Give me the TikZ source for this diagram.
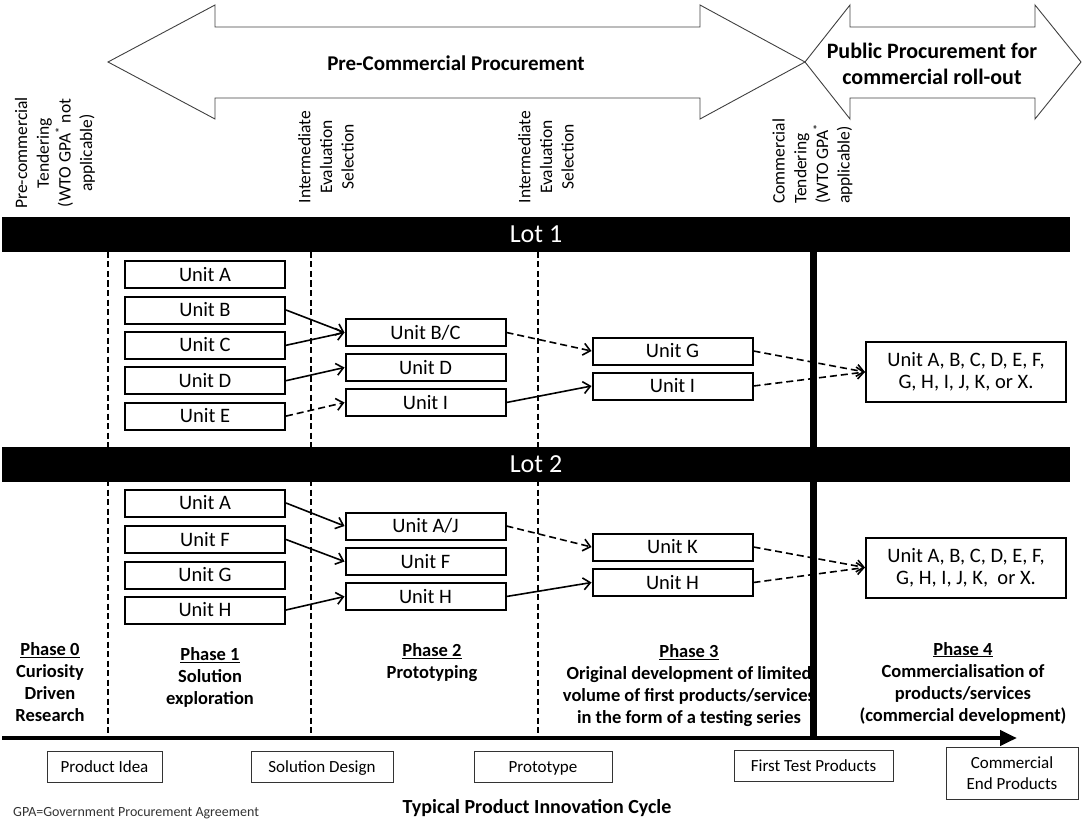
\documentclass[tikz,border=0pt]{standalone}
\usepackage{fontspec}
\setmainfont{Carlito}
\usetikzlibrary{arrows.meta}

\tikzset{
  unit/.style={draw, line width=2pt, minimum width=160pt, minimum height=27pt, inner sep=0pt, text height=13pt, text depth=0pt, font=\fontsize{20.5}{22}\selectfont},
  final/.style={draw, line width=2pt, minimum width=200pt, minimum height=60pt, inner sep=0pt, align=center, font=\fontsize{20.5}{22}\selectfont},
  stage/.style={draw=black!80, line width=0.9pt, minimum height=31pt, inner sep=0pt, text height=11pt, text depth=0pt, font=\fontsize{17}{21}\selectfont},
  lotbar/.style={fill=black, minimum width=1068pt, minimum height=35pt, inner sep=0pt, text=white, font=\fontsize{26}{30}\selectfont},
  milestone/.style={rotate=90, align=center, inner sep=0pt, font=\fontsize{17.5}{21.7}\selectfont},
  phase/.style={align=center, inner sep=0pt, font=\bfseries\fontsize{18.5}{22}\selectfont},
  link/.style={line width=1.6pt, -{Straight Barb[length=7pt,width=12pt]}},
  optional/.style={link, dash pattern=on 7pt off 4pt},
  gate/.style={line width=2pt, dash pattern=on 6pt off 3.5pt},
  outline/.style={line width=0.9pt, black!75}
}

\begin{document}
\begin{tikzpicture}[x=1pt, y=-1pt]
\useasboundingbox (0,0) rectangle (1082,821);

% procurement arrows
\draw[outline] (108,62) -- (215,5) -- (215,27) -- (700,27) -- (700,5) -- (805,62) -- (700,119) -- (700,98) -- (215,98) -- (215,119) -- cycle;
\draw[outline] (805,62) -- (850,5) -- (850,27) -- (1035,27) -- (1035,5) -- (1081,62) -- (1035,119) -- (1035,98) -- (850,98) -- (850,119) -- cycle;
\node[font=\bfseries\fontsize{21}{24}\selectfont] (pcp) at (456,63) {Pre-Commercial Procurement};
\node[align=center, font=\bfseries\fontsize{22}{25.5}\selectfont] (ppc) at (932,64) {Public Procurement for\\commercial roll-out};

% milestones
\node[milestone] (tender) at (55,153) {Pre-commercial\\Tendering\\(WTO GPA\textsuperscript{*} not\\applicable)};
\node[milestone] (eval1) at (326,157) {Intermediate\\Evaluation\\Selection};
\node[milestone] (eval2) at (546,157) {Intermediate\\Evaluation\\Selection};
\node[milestone, align=left, anchor=west] (comtender) at (812.5,204) {Commercial\\Tendering\\(WTO GPA\textsuperscript{*}\\applicable)};

% phase borders
\draw[gate] (108,252) -- (108,738);
\draw[gate] (311,252) -- (311,738);
\draw[gate] (537.5,252) -- (537.5,738);
\draw[line width=7pt] (813,252) -- (813,738);

% lots
\node[lotbar] (lot1) at (536,234.5) {Lot 1};
\node[lotbar] (lot2) at (536,464.5) {Lot 2};

% lot 1
\node[unit] (l1a) at (205,274.5) {Unit A};
\node[unit] (l1b) at (205,310) {Unit B};
\node[unit] (l1c) at (205,345.3) {Unit C};
\node[unit] (l1d) at (205,380.7) {Unit D};
\node[unit] (l1e) at (205,416.1) {Unit E};
\node[unit] (l1bc) at (425.5,332.5) {Unit B/C};
\node[unit] (l1d2) at (425.5,367.5) {Unit D};
\node[unit] (l1i2) at (425.5,402.5) {Unit I};
\node[unit] (l1g3) at (672.5,351) {Unit G};
\node[unit] (l1i3) at (672.5,386) {Unit I};
\node[final] (l1all) at (966,372) {Unit A, B, C, D, E, F,\\G, H, I, J, K, or X.};

\draw[link] (l1b.east) -- (l1bc.west);
\draw[link] (l1c.east) -- (l1bc.west);
\draw[link] (l1d.east) -- (l1d2.west);
\draw[optional] (l1e.east) -- (l1i2.west);
\draw[optional] (l1bc.east) -- (l1g3.west);
\draw[link] (l1i2.east) -- (l1i3.west);
\draw[optional] (l1g3.east) -- (l1all.west);
\draw[optional] (l1i3.east) -- (l1all.west);

% lot 2
\node[unit] (l2a) at (205,503) {Unit A};
\node[unit] (l2f) at (205,539.5) {Unit F};
\node[unit] (l2g) at (205,575) {Unit G};
\node[unit] (l2h) at (205,610) {Unit H};
\node[unit] (l2aj) at (425.5,526) {Unit A/J};
\node[unit] (l2f2) at (425.5,561.5) {Unit F};
\node[unit] (l2h2) at (425.5,596.5) {Unit H};
\node[unit] (l2k3) at (672.5,547) {Unit K};
\node[unit] (l2h3) at (672.5,582.5) {Unit H};
\node[final] (l2all) at (966,567.5) {Unit A, B, C, D, E, F,\\G, H, I, J, K,\ \ or X.};

\draw[link] (l2a.east) -- (l2aj.west);
\draw[link] (l2f.east) -- (l2f2.west);
\draw[link] (l2h.east) -- (l2h2.west);
\draw[optional] (l2aj.east) -- (l2k3.west);
\draw[link] (l2h2.east) -- (l2h3.west);
\draw[optional] (l2k3.east) -- (l2all.west);
\draw[optional] (l2h3.east) -- (l2all.west);

% phases
\node[phase] (ph0) at (50,682) {\underline{Phase 0}\\Curiosity\\Driven\\Research};
\node[phase] (ph1) at (210,677.5) {\underline{Phase 1}\\Solution\\exploration};
\node[phase] (ph2) at (432,663) {\underline{Phase 2}\\Prototyping};
\node[phase] (ph3) at (689,686) {\underline{Phase 3}\\Original development of limited\\volume of first products/services\\in the form of a testing series};
\node[phase] (ph4) at (963,683) {\underline{Phase 4}\\Commercialisation of\\products/services\\(commercial development)};

% innovation cycle
\draw[line width=4.5pt, -{Triangle[length=17pt,width=15pt]}] (2,738) -- (1017,738);
\node[stage, minimum width=115pt] (idea) at (104.5,766.5) {Product Idea};
\node[stage, minimum width=142pt] (design) at (322,766.5) {Solution Design};
\node[stage, minimum width=138pt] (proto) at (543,766.5) {Prototype};
\node[stage, minimum width=159pt] (firsttest) at (813.5,766) {First Test Products};
\node[draw=black!80, line width=0.9pt, minimum width=132pt, minimum height=52pt, inner sep=0pt, align=center, font=\fontsize{17}{21}\selectfont] (endprod) at (1012,773) {Commercial\\End Products};
\node[font=\bfseries\fontsize{20}{24}\selectfont] (cycle) at (537,808) {Typical Product Innovation Cycle};
\node[anchor=west, inner sep=0pt, text=black!80, font=\fontsize{14}{16}\selectfont] (gpa) at (13,813) {GPA=Government Procurement Agreement};

\end{tikzpicture}
\end{document}
